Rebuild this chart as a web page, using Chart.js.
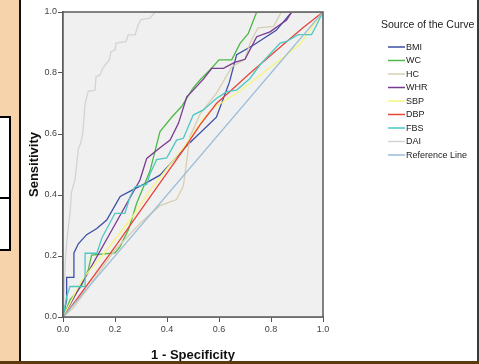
<!DOCTYPE html>
<html lang="en">
<head>
    <meta charset="UTF-8">
    <title>ROC Curves</title>
    <script src="https://cdn.jsdelivr.net/npm/chart.js"></script>
    <style>
        body {
            margin: 0;
            width: 479px;
            height: 364px;
            overflow: hidden;
            background: #fff;
            position: relative;
            font-family: Arial, "Liberation Sans", sans-serif;
        }
        .side {
            position: absolute;
            left: 0; top: 0;
            width: 19px; height: 364px;
            background: #f6d3aa;
        }
        .side-line {
            position: absolute;
            left: 19px; top: 0;
            width: 2px; height: 364px;
            background: #111;
        }
        .box {
            position: absolute;
            left: -4px;
            width: 11px;
            background: #fff;
            border: 2px solid #000;
        }
        .right-line {
            position: absolute;
            left: 477px; top: 0;
            width: 2px; height: 364px;
            background: #3a3a3a;
        }
        .bottom-bar {
            position: absolute;
            left: 0; top: 361px;
            width: 479px; height: 3px;
            background: #5c3a10;
            z-index: 5;
        }
        #wrap {
            position: absolute;
            left: 21px; top: 0;
            width: 456px; height: 364px;
        }
    </style>
</head>
<body>
    <div class="side"></div>
    <div class="box" style="top:116px;height:81px;"></div>
    <div class="box" style="top:197px;height:50px;"></div>
    <div class="side-line"></div>
    <div class="right-line"></div>
    <div class="bottom-bar"></div>

    <div id="wrap"><canvas id="roc" width="456" height="364"></canvas></div>

    <script>
        // curve points: [1 - specificity, sensitivity]
        const seriesNames = ['BMI', 'WC', 'HC', 'WHR', 'SBP', 'DBP', 'FBS', 'DAI', 'Reference Line'];
        const seriesColors = ['#3d4fa5', '#4fb848', '#d6cfb0', '#7a3a91', '#f5f57d', '#e8443a', '#4ec8c2', '#d3d3d3', '#9bbcd8'];

        const bmi = [[0,0],[0.014,0.056],[0.014,0.13],[0.042,0.13],[0.042,0.21],[0.059,0.24],[0.091,0.27],[0.13,0.29],[0.168,0.318],[0.22,0.395],[0.275,0.42],[0.31,0.435],[0.373,0.465],[0.48,0.565],[0.59,0.655],[0.64,0.77],[0.668,0.86],[0.73,0.89],[0.82,0.94],[0.88,1],[1,1]];
        const wc = [[0,0],[0.01,0.02],[0.027,0.056],[0.042,0.072],[0.07,0.1],[0.097,0.154],[0.11,0.203],[0.2,0.21],[0.219,0.23],[0.251,0.285],[0.264,0.318],[0.283,0.372],[0.315,0.438],[0.335,0.48],[0.373,0.608],[0.418,0.655],[0.456,0.69],[0.5,0.75],[0.527,0.777],[0.565,0.81],[0.6,0.843],[0.649,0.843],[0.681,0.897],[0.713,0.93],[0.745,1],[1,1]];
        const hc = [[0,0],[0.04,0.03],[0.1,0.1],[0.2,0.22],[0.3,0.31],[0.373,0.365],[0.437,0.385],[0.463,0.43],[0.488,0.59],[0.527,0.665],[0.591,0.735],[0.649,0.82],[0.7,0.845],[0.72,0.9],[0.75,0.948],[0.81,0.953],[0.84,1],[1,1]];
        const whr = [[0,0],[0.296,0.449],[0.322,0.52],[0.373,0.555],[0.412,0.58],[0.444,0.635],[0.476,0.722],[0.501,0.744],[0.54,0.78],[0.572,0.815],[0.617,0.815],[0.66,0.835],[0.7,0.845],[0.745,0.919],[0.796,0.935],[0.86,0.974],[0.88,1],[1,1]];
        const sbp = [[0,0],[0.03,0.05],[0.053,0.09],[0.08,0.13],[0.15,0.2],[0.258,0.318],[0.335,0.416],[0.476,0.57],[0.54,0.65],[0.578,0.685],[0.68,0.74],[0.91,0.893],[1,1]];
        const dbp = [[0,0],[0.046,0.05],[0.2,0.23],[0.335,0.394],[0.463,0.548],[0.527,0.63],[0.59,0.7],[0.642,0.739],[0.719,0.799],[0.846,0.893],[0.923,0.948],[1,1]];
        const fbs = [[0,0],[0.014,0.067],[0.027,0.1],[0.085,0.1],[0.085,0.209],[0.13,0.209],[0.15,0.26],[0.2,0.34],[0.238,0.34],[0.258,0.394],[0.277,0.427],[0.322,0.435],[0.335,0.47],[0.36,0.516],[0.399,0.522],[0.437,0.58],[0.463,0.586],[0.501,0.662],[0.54,0.679],[0.591,0.717],[0.63,0.739],[0.668,0.744],[0.719,0.782],[0.758,0.827],[0.835,0.898],[0.86,0.904],[0.905,0.926],[0.956,0.926],[0.976,0.958],[0.988,0.98],[1,1]];
        const dai = [[0,0],[0.005,0.1],[0.01,0.2],[0.015,0.25],[0.02,0.29],[0.027,0.34],[0.033,0.41],[0.046,0.45],[0.05,0.48],[0.059,0.55],[0.068,0.57],[0.076,0.6],[0.085,0.7],[0.097,0.74],[0.123,0.744],[0.127,0.788],[0.142,0.793],[0.153,0.816],[0.178,0.843],[0.185,0.87],[0.2,0.875],[0.204,0.898],[0.242,0.903],[0.251,0.925],[0.277,0.925],[0.29,0.96],[0.3,0.975],[0.335,0.98],[0.354,1],[1,1]];
        const refLine = [[0,0],[1,1]];

        const tickValues = [0, 0.2, 0.4, 0.6, 0.8, 1.0];
        const allSeries = [bmi, wc, hc, whr, sbp, dbp, fbs, dai, refLine];

        const datasets = allSeries.map((pts, i) => ({
            label: seriesNames[i],
            data: pts.map(p => ({ x: p[0], y: p[1] })),
            borderColor: seriesColors[i],
            borderWidth: 1.3,
            pointRadius: 0,
            tension: 0,
            fill: false,
            order: allSeries.length - i
        }));

        // grey plot background and the frame around it
        const plotFrame = {
            id: 'plotFrame',
            beforeDatasetsDraw(chart) {
                const a = chart.chartArea;
                const ctx = chart.ctx;
                ctx.save();
                ctx.fillStyle = '#f0f0f0';
                ctx.fillRect(a.left, a.top, a.right - a.left, a.bottom - a.top);
                ctx.restore();
            },
            afterDatasetsDraw(chart) {
                const a = chart.chartArea;
                const ctx = chart.ctx;
                ctx.save();
                ctx.strokeStyle = '#5a5a5a';
                ctx.lineWidth = 1.5;
                ctx.strokeRect(a.left, a.top, a.right - a.left, a.bottom - a.top);
                ctx.restore();
            }
        };

        // SPSS style legend on the right
        const sideLegend = {
            id: 'sideLegend',
            afterDraw(chart) {
                const ctx = chart.ctx;
                ctx.save();
                ctx.fillStyle = '#222';
                ctx.textBaseline = 'middle';
                ctx.font = '10.5px Arial, "Liberation Sans", sans-serif';
                ctx.fillText('Source of the Curve', 360, 25);
                ctx.font = '9px Arial, "Liberation Sans", sans-serif';
                seriesNames.forEach((name, i) => {
                    const y = 47 + i * 13.5;
                    ctx.strokeStyle = seriesColors[i];
                    ctx.lineWidth = 1.5;
                    ctx.beginPath();
                    ctx.moveTo(367, y);
                    ctx.lineTo(384, y);
                    ctx.stroke();
                    ctx.fillStyle = '#222';
                    ctx.fillText(name, 385, y + 0.5);
                });
                ctx.restore();
            }
        };

        new Chart(document.getElementById('roc'), {
            type: 'line',
            data: { datasets: datasets },
            plugins: [plotFrame, sideLegend],
            options: {
                responsive: false,
                animation: false,
                layout: { padding: { top: 12, right: 154, left: 0, bottom: 0 } },
                plugins: {
                    legend: { display: false },
                    tooltip: { enabled: false }
                },
                scales: {
                    x: {
                        type: 'linear',
                        min: 0,
                        max: 1,
                        afterBuildTicks: s => { s.ticks = tickValues.map(v => ({ value: v })); },
                        afterFit: s => { s.height = 47; },
                        ticks: {
                            callback: v => v.toFixed(1),
                            font: { size: 9, family: 'Arial' },
                            color: '#444',
                            padding: 2,
                            maxRotation: 0
                        },
                        grid: { drawOnChartArea: false, tickLength: 5, color: '#555' },
                        border: { color: '#5a5a5a', width: 1.5 },
                        title: {
                            display: true,
                            text: '1 - Specificity',
                            font: { size: 13, weight: 'bold', family: 'Arial' },
                            color: '#111',
                            padding: { top: 0, bottom: 1 }
                        }
                    },
                    y: {
                        type: 'linear',
                        min: 0,
                        max: 1,
                        afterBuildTicks: s => { s.ticks = tickValues.map(v => ({ value: v })); },
                        afterFit: s => { s.width = 42; },
                        ticks: {
                            callback: v => v.toFixed(1),
                            font: { size: 9, family: 'Arial' },
                            color: '#444',
                            padding: 1
                        },
                        grid: { drawOnChartArea: false, tickLength: 5, color: '#555' },
                        border: { color: '#5a5a5a', width: 1.5 },
                        title: {
                            display: true,
                            text: 'Sensitivity',
                            font: { size: 13, weight: 'bold', family: 'Arial' },
                            color: '#111',
                            padding: { top: 6, bottom: 0 }
                        }
                    }
                }
            }
        });
    </script>
</body>
</html>
